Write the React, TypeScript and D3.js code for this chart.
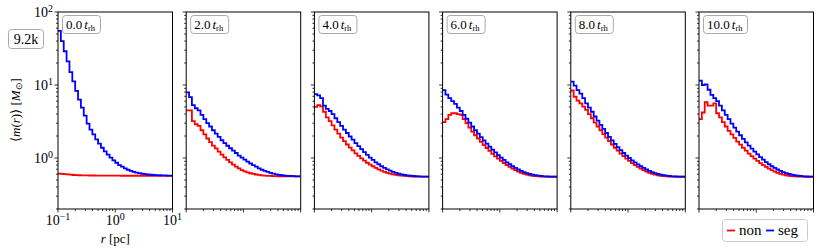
import * as d3 from "d3";

// snapshots in units of the half-mass relaxation time
const times = ["0.0", "2.0", "4.0", "6.0", "8.0", "10.0"];

// mean mass per radial bin, 40 log bins from 0.1 to 10 pc
const nonSeg0 = [0.61, 0.605, 0.6, 0.595, 0.59, 0.585, 0.582, 0.58, 0.578, 0.577, 0.576, 0.575, 0.575, 0.574, 0.574, 0.573, 0.573, 0.573, 0.572, 0.572, 0.572, 0.572, 0.571, 0.571, 0.571, 0.571, 0.571, 0.571, 0.57, 0.57, 0.57, 0.57, 0.57, 0.57, 0.57, 0.57, 0.57, 0.57, 0.57, 0.57];
const seg0 = [55, 40, 29, 21, 15, 11.2, 8.3, 6.3, 4.9, 3.8, 2.95, 2.45, 2.1, 1.8, 1.57, 1.38, 1.23, 1.11, 1.01, 0.93, 0.86, 0.8, 0.76, 0.72, 0.69, 0.665, 0.645, 0.63, 0.618, 0.608, 0.6, 0.594, 0.589, 0.585, 0.582, 0.58, 0.578, 0.576, 0.574, 0.572];

const nonSeg2 = [4.5, 4.5, 3.2, 2.9, 2.75, 2.4, 2.1, 1.85, 1.65, 1.48, 1.35, 1.22, 1.11, 1.02, 0.94, 0.87, 0.81, 0.76, 0.72, 0.68, 0.655, 0.635, 0.618, 0.604, 0.594, 0.586, 0.579, 0.574, 0.57, 0.567, 0.565, 0.563, 0.562, 0.561, 0.56, 0.56, 0.56, 0.56, 0.56, 0.56];
const seg2 = [7.9, 6.8, 5.3, 4.8, 4.5, 3.9, 3.4, 3.0, 2.7, 2.4, 2.15, 1.95, 1.75, 1.6, 1.47, 1.36, 1.26, 1.17, 1.08, 1.01, 0.95, 0.89, 0.84, 0.8, 0.76, 0.72, 0.69, 0.665, 0.645, 0.625, 0.61, 0.598, 0.588, 0.58, 0.574, 0.569, 0.566, 0.563, 0.561, 0.56];

const nonSeg4 = [5.0, 5.3, 5.1, 4.3, 3.6, 3.2, 2.8, 2.45, 2.15, 1.9, 1.7, 1.53, 1.39, 1.27, 1.16, 1.07, 0.99, 0.92, 0.86, 0.81, 0.77, 0.73, 0.7, 0.67, 0.645, 0.625, 0.61, 0.597, 0.587, 0.579, 0.572, 0.567, 0.563, 0.56, 0.558, 0.556, 0.555, 0.555, 0.554, 0.554];
const seg4 = [7.5, 7.2, 6.6, 5.2, 4.7, 4.4, 4.0, 3.5, 3.1, 2.75, 2.45, 2.2, 1.97, 1.78, 1.6, 1.45, 1.32, 1.2, 1.1, 1.01, 0.94, 0.87, 0.82, 0.77, 0.73, 0.7, 0.67, 0.645, 0.625, 0.608, 0.595, 0.585, 0.577, 0.571, 0.566, 0.562, 0.559, 0.557, 0.556, 0.555];

const nonSeg6 = [3.1, 3.4, 3.9, 4.1, 4.1, 4.0, 3.9, 3.4, 3.0, 2.6, 2.3, 2.05, 1.85, 1.66, 1.5, 1.37, 1.25, 1.14, 1.05, 0.98, 0.91, 0.85, 0.8, 0.755, 0.715, 0.68, 0.65, 0.627, 0.607, 0.592, 0.58, 0.571, 0.564, 0.56, 0.557, 0.555, 0.554, 0.553, 0.553, 0.553];
const seg6 = [8.5, 7.4, 6.6, 6.0, 5.5, 4.9, 4.4, 3.9, 3.45, 3.05, 2.7, 2.4, 2.15, 1.93, 1.74, 1.57, 1.43, 1.3, 1.19, 1.09, 1.01, 0.94, 0.87, 0.82, 0.77, 0.73, 0.695, 0.665, 0.64, 0.62, 0.603, 0.59, 0.58, 0.572, 0.566, 0.561, 0.558, 0.556, 0.555, 0.554];

const nonSeg8 = [8.4, 6.9, 6.1, 5.6, 5.05, 4.55, 4.0, 3.5, 3.05, 2.7, 2.4, 2.12, 1.9, 1.7, 1.53, 1.38, 1.26, 1.15, 1.06, 0.98, 0.91, 0.85, 0.8, 0.755, 0.715, 0.68, 0.65, 0.627, 0.607, 0.592, 0.58, 0.571, 0.564, 0.56, 0.557, 0.555, 0.554, 0.553, 0.553, 0.553];
const seg8 = [11.1, 9.8, 8.5, 7.6, 6.6, 5.6, 4.9, 4.3, 3.7, 3.25, 2.85, 2.5, 2.2, 1.95, 1.74, 1.56, 1.41, 1.28, 1.17, 1.08, 1.0, 0.93, 0.87, 0.815, 0.77, 0.73, 0.695, 0.665, 0.64, 0.62, 0.603, 0.59, 0.58, 0.572, 0.566, 0.561, 0.558, 0.556, 0.555, 0.554];

const nonSeg10 = [3.4, 4.2, 5.8, 5.2, 5.2, 5.6, 4.1, 3.6, 3.1, 2.7, 2.35, 2.1, 1.88, 1.68, 1.52, 1.38, 1.26, 1.15, 1.06, 0.98, 0.91, 0.85, 0.8, 0.755, 0.715, 0.68, 0.65, 0.627, 0.607, 0.592, 0.58, 0.571, 0.564, 0.56, 0.557, 0.555, 0.554, 0.553, 0.553, 0.553];
const seg10 = [11.5, 10.0, 10.2, 8.6, 7.3, 6.6, 6.0, 5.2, 4.5, 3.9, 3.4, 2.95, 2.6, 2.3, 2.05, 1.83, 1.64, 1.48, 1.34, 1.22, 1.12, 1.03, 0.95, 0.88, 0.82, 0.77, 0.73, 0.695, 0.665, 0.64, 0.62, 0.603, 0.59, 0.58, 0.572, 0.566, 0.561, 0.558, 0.556, 0.555];

const nonSeries = [nonSeg0, nonSeg2, nonSeg4, nonSeg6, nonSeg8, nonSeg10];
const segSeries = [seg0, seg2, seg4, seg6, seg8, seg10];

const xTickLabels = ["\u22121", "0", "1"]; // exponents of 10
const yTickLabels = ["0", "1", "2"];

const FONT = "Liberation Serif";
const nBins = 40;
const edges = d3.range(nBins + 1).map((i) => Math.pow(10, -1 + (2 * i) / nBins));

const left0 = 58;
const pitch = 128.2;
const panelW = 114.5;
const top = 12;
const bottom = 209;

const x = d3.scaleLog().domain([0.1, 10]).range([0, panelW]);
const y = d3.scaleLog().domain([0.2, 100]).range([bottom, top]);

const stepLine = (vals: number[]) => {
  const pts: [number, number][] = vals.map((v, i) => [edges[i], v]);
  pts.push([edges[nBins], vals[nBins - 1]]);
  return d3
    .line<[number, number]>()
    .x((d) => x(d[0]))
    .y((d) => y(d[1]))
    .curve(d3.curveStepAfter)(pts) as string;
};

const isMajor = (v: number) => Math.abs(Math.log10(v) - Math.round(Math.log10(v))) < 1e-6;

function Panel({ idx }: { idx: number }) {
  const ox = left0 + idx * pitch;
  const xt = x.ticks();
  const yt = y.ticks();
  return (
    <g transform={`translate(${ox},0)`}>
      <defs>
        <clipPath id={`clip${idx}`}>
          <rect x={0} y={top} width={panelW} height={bottom - top} />
        </clipPath>
      </defs>
      <g clipPath={`url(#clip${idx})`} fill="none" strokeWidth={1.8} strokeLinejoin="miter">
        <path d={stepLine(nonSeries[idx])} stroke="#ff0000" />
        <path d={stepLine(segSeries[idx])} stroke="#0000ff" />
      </g>
      <rect x={0} y={top} width={panelW} height={bottom - top} fill="none" stroke="#000" strokeWidth={1} />
      {yt.map((t, i) => (
        <line key={`y${i}`} x1={0} x2={isMajor(t) ? -3.5 : -2} y1={y(t)} y2={y(t)} stroke="#000" strokeWidth={0.8} />
      ))}
      {xt.map((t, i) => (
        <line key={`x${i}`} x1={x(t)} x2={x(t)} y1={bottom} y2={bottom + (isMajor(t) ? 3.5 : 2)} stroke="#000" strokeWidth={0.8} />
      ))}
      {idx === 0 &&
        [0.1, 1, 10].map((t, i) => (
          <text key={`xl${i}`} x={x(t)} y={bottom + 16} textAnchor="middle" fontSize={14} fontFamily={FONT}>
            10<tspan dy={-5} fontSize={10}>{xTickLabels[i]}</tspan>
          </text>
        ))}
      {idx === 0 &&
        [1, 10, 100].map((t, i) => (
          <text key={`yl${i}`} x={-5} y={y(t) + 5} textAnchor="end" fontSize={14} fontFamily={FONT}>
            10<tspan dy={-5} fontSize={10}>{yTickLabels[i]}</tspan>
          </text>
        ))}
      <rect x={4.5} y={15.5} width={idx === 5 ? 44 : 38} height={18} rx={3} fill="#fff" stroke="#aaa" strokeWidth={1} />
      <text x={8} y={29} fontSize={13} fontFamily={FONT}>
        {times[idx]}
        <tspan dx={2} fontStyle="italic">t</tspan>
        <tspan dy={2} fontSize={8.5}>rh</tspan>
      </text>
    </g>
  );
}

export default function App() {
  return (
    <svg width={830} height={249} style={{ position: "absolute", left: 0, top: 0 }}>
      <rect width={830} height={249} fill="#fff" />
      {times.map((_, i) => (
        <Panel key={i} idx={i} />
      ))}
      <text transform="translate(20,110) rotate(-90)" textAnchor="middle" fontSize={13} fontFamily={FONT}>
        {"\u27E8"}
        <tspan fontStyle="italic">m</tspan>(<tspan fontStyle="italic">r</tspan>){"\u27E9 ["}
        <tspan fontStyle="italic">M</tspan>
        <tspan dy={2} fontSize={9}>{"\u2299"}</tspan>
        <tspan dy={-2}>]</tspan>
      </text>
      <text x={left0 + panelW / 2} y={243} textAnchor="middle" fontSize={13} fontFamily={FONT}>
        <tspan fontStyle="italic">r</tspan> [pc]
      </text>
      <rect x={8.5} y={29.5} width={35} height={19} rx={3} fill="#fff" stroke="#aaa" strokeWidth={1} />
      <text x={26} y={44} textAnchor="middle" fontSize={14} fontFamily={FONT}>
        9.2k
      </text>
      <g>
        <rect x={722.5} y={219.5} width={85} height={22} rx={3} fill="#fff" stroke="#ccc" strokeWidth={1} />
        <line x1={727} x2={735} y1={230.5} y2={230.5} stroke="#ff0000" strokeWidth={1.8} />
        <text x={739} y={235} fontSize={15} fontFamily={FONT}>non</text>
        <line x1={766} x2={774} y1={230.5} y2={230.5} stroke="#0000ff" strokeWidth={1.8} />
        <text x={778} y={235} fontSize={15} fontFamily={FONT}>seg</text>
      </g>
    </svg>
  );
}
